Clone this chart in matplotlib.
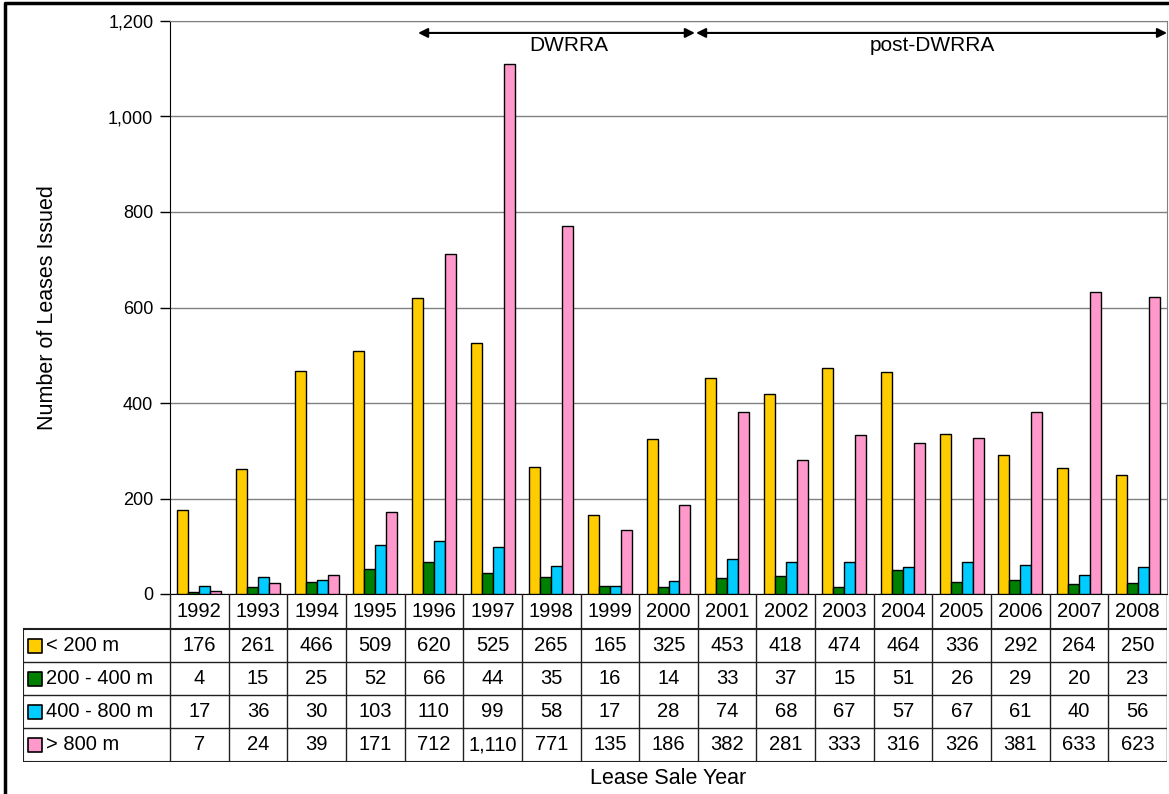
import matplotlib
matplotlib.use('Agg')
import matplotlib.pyplot as plt
from matplotlib.lines import Line2D
from matplotlib.ticker import FuncFormatter
import numpy as np

plt.rcParams['font.family'] = ['Liberation Sans', 'DejaVu Sans']

years = ['1992', '1993', '1994', '1995', '1996', '1997', '1998', '1999', '2000',
         '2001', '2002', '2003', '2004', '2005', '2006', '2007', '2008']
labels = ['< 200 m', '200 - 400 m', '400 - 800 m', '> 800 m']
shallow = [176, 261, 466, 509, 620, 525, 265, 165, 325, 453, 418, 474, 464, 336, 292, 264, 250]
mid = [4, 15, 25, 52, 66, 44, 35, 16, 14, 33, 37, 15, 51, 26, 29, 20, 23]
deep = [17, 36, 30, 103, 110, 99, 58, 17, 28, 74, 68, 67, 57, 67, 61, 40, 56]
ultra = [7, 24, 39, 171, 712, 1110, 771, 135, 186, 382, 281, 333, 316, 326, 381, 633, 623]
series = [shallow, mid, deep, ultra]
colors = ['#FFCC00', '#008000', '#00CCFF', '#FF99CC']

W, H = 1169, 794
fig = plt.figure(figsize=(W / 100, H / 100), dpi=100)

# main axes in pixel layout
ax_l, ax_r, ax_t, ax_b = 170, 1167, 21, 594
ax = fig.add_axes([ax_l / W, 1 - ax_b / H, (ax_r - ax_l) / W, (ax_b - ax_t) / H])
x = np.arange(len(years))
bw = 0.1875
for i, (vals, c) in enumerate(zip(series, colors)):
    ax.bar(x + (i - 1.5) * bw, vals, bw, color=c, edgecolor='black', linewidth=1, zorder=3)

ax.set_xlim(-0.5, len(years) - 0.5)
ax.set_ylim(0, 1200)
ax.set_yticks(range(0, 1201, 200))
ax.yaxis.set_major_formatter(FuncFormatter(lambda v, p: f'{int(v):,}'))
ax.tick_params(axis='y', labelsize=13, length=7, width=1, direction='out', pad=5)
ax.set_xticks([])
ax.grid(axis='y', color='#808080', linewidth=1, zorder=0)
ax.spines['left'].set_color('black')
ax.spines['top'].set_color('#808080')
ax.spines['right'].set_color('#808080')
ax.spines['bottom'].set_color('black')
ax.set_ylabel('Number of Leases Issued', fontsize=15.5, labelpad=36)

# period arrows
ax.annotate('', xy=(3.73, 1175), xytext=(8.45, 1175),
            arrowprops=dict(arrowstyle='<|-|>', color='black', lw=1.5, mutation_scale=14,
                            shrinkA=0, shrinkB=0), annotation_clip=False)
ax.annotate('', xy=(8.47, 1175), xytext=(16.5, 1175),
            arrowprops=dict(arrowstyle='<|-|>', color='black', lw=1.5, mutation_scale=14,
                            shrinkA=0, shrinkB=0), annotation_clip=False)
ax.text(6.3, 1148, 'DWRRA', ha='center', va='center', fontsize=15)
ax.text(12.49, 1148, 'post-DWRRA', ha='center', va='center', fontsize=15)

# data table below the chart
tl = 23
unit = len(years) / (ax_r - ax_l)
tab = fig.add_axes([tl / W, 1 - 762 / H, (ax_r - tl) / W, (762 - ax_b) / H])
tab.set_xlim(-0.5 - (ax_l - tl) * unit, len(years) - 0.5)
tab.set_ylim(762, 594)
tab.axis('off')
rows = [594, 629, 662, 695, 728, 762]
lc = '#202020'
for j, yr in enumerate(years):
    tab.text(j, (rows[0] + rows[1]) / 2, yr, ha='center', va='center', fontsize=14.5)
    tab.plot([j - 0.5, j - 0.5], [rows[0], rows[-1]], color=lc, lw=1)
tab.plot([len(years) - 0.5] * 2, [rows[0], rows[-1]], color=lc, lw=1)
x0 = -0.5 - (ax_l - tl) * unit
tab.plot([x0, x0], [rows[1], rows[-1]], color=lc, lw=1.5)
for r in rows[1:]:
    tab.plot([x0, len(years) - 0.5], [r, r], color=lc, lw=1.5 if r in (rows[1], rows[-1]) else 1)
for i, (vals, c, lab) in enumerate(zip(series, colors, labels)):
    yc = (rows[i + 1] + rows[i + 2]) / 2
    tab.scatter([x0 + 0.205], [yc], marker='s', s=115, color=c, edgecolor='black', linewidth=1.2)
    tab.text(x0 + 0.39, yc, lab, ha='left', va='center', fontsize=14.5)
    for j, v in enumerate(vals):
        tab.text(j, yc, f'{v:,}', ha='center', va='center', fontsize=14.5)

fig.text((ax_l + ax_r) / 2 / W, 1 - 778 / H, 'Lease Sale Year', ha='center', va='center', fontsize=15.5)

# outer frame (left and top edges visible)
fig.add_artist(Line2D([4.5 / W, 4.5 / W, 1], [0, 1 - 2.5 / H, 1 - 2.5 / H],
                      transform=fig.transFigure, color='black', lw=2.5))

fig.savefig('out.png', dpi=100)
